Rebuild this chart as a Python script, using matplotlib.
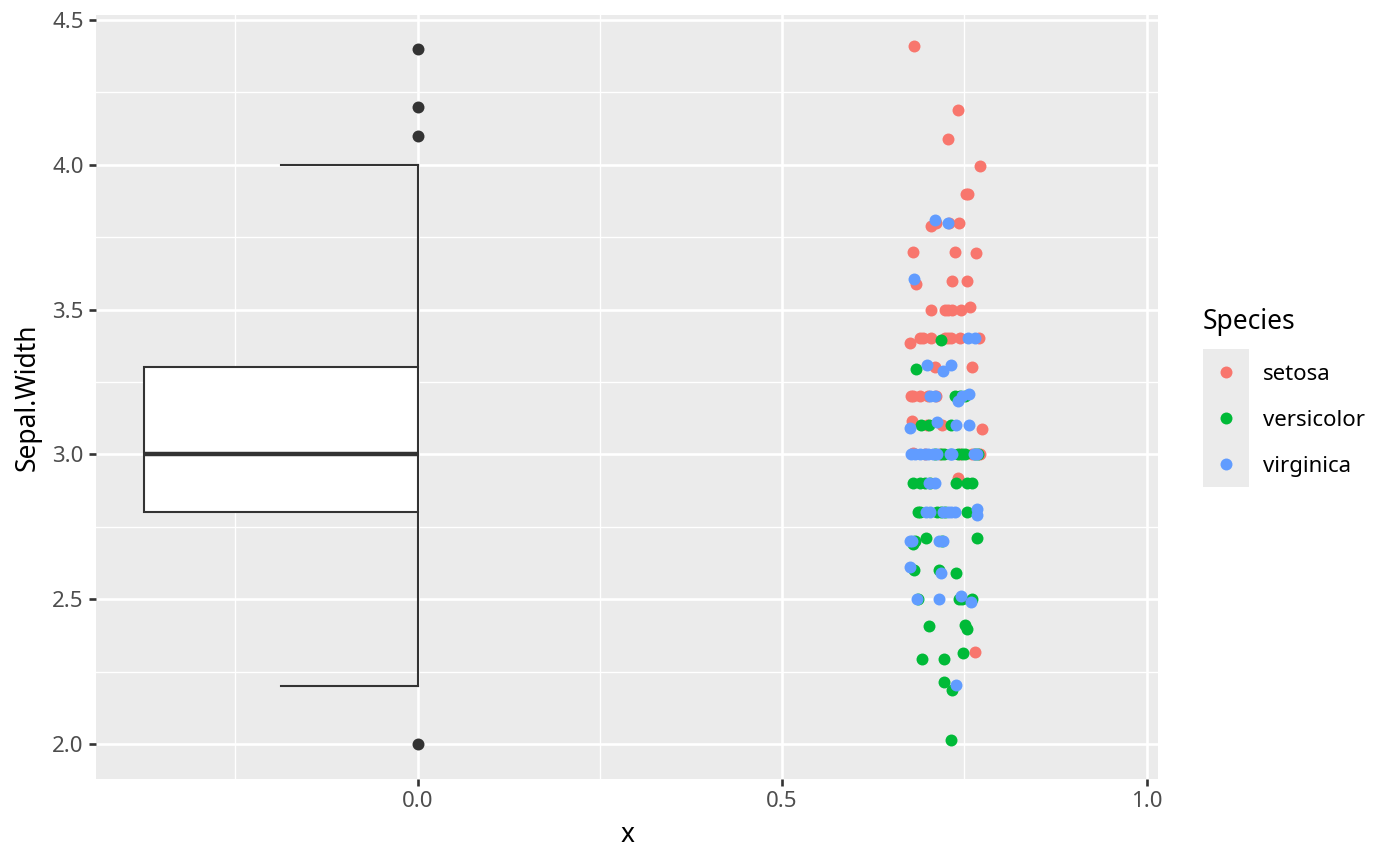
import numpy as np
import matplotlib
matplotlib.use("Agg")
import matplotlib.pyplot as plt
from matplotlib.patches import Rectangle
from matplotlib.lines import Line2D

plt.rcParams['font.family'] = ['Noto Sans', 'DejaVu Sans']

# ---------------- data ----------------
species = ["setosa", "versicolor", "virginica"]
colors = ["#F8766D", "#00BA38", "#619CFF"]

setosa_sw = [4.4, 4.2, 4.1, 4.0, 3.9, 3.9,
             3.8, 3.8, 3.8, 3.8, 3.7, 3.7, 3.7, 3.6, 3.6, 3.6,
             3.5, 3.5, 3.5, 3.5, 3.5, 3.5,
             3.4, 3.4, 3.4, 3.4, 3.4, 3.4, 3.4, 3.4, 3.4,
             3.3, 3.3, 3.2, 3.2, 3.2, 3.2, 3.2,
             3.1, 3.1, 3.1, 3.1, 3.0, 3.0, 3.0, 3.0, 3.0, 3.0, 2.9, 2.3]
setosa_x = [0.681, 0.741, 0.728, 0.771, 0.755, 0.752,
            0.704, 0.711, 0.729, 0.743, 0.679, 0.737, 0.766, 0.684, 0.733, 0.754,
            0.704, 0.723, 0.728, 0.733, 0.745, 0.758,
            0.675, 0.689, 0.693, 0.704, 0.723, 0.727, 0.732, 0.744, 0.770,
            0.710, 0.760, 0.677, 0.679, 0.689, 0.700, 0.711,
            0.678, 0.699, 0.719, 0.774, 0.679, 0.696, 0.716, 0.744, 0.760, 0.771, 0.741, 0.764]
# small vertical jitter (same order as setosa_sw)
setosa_dy = [0.01, -0.01, -0.01, -0.005, 0, 0,
             -0.01, 0, 0, 0, 0, 0, -0.004, -0.012, 0, 0,
             0, 0, 0, 0, 0, 0.01,
             -0.015, 0, 0, 0, 0, 0, 0, 0, 0,
             0, 0, 0, 0, 0, 0, 0,
             0.015, 0, 0, -0.013, 0.005, 0, 0, 0, 0, 0, 0.02, 0.018]

versicolor_sw = [3.4, 3.3, 3.2, 3.2, 3.2, 3.1, 3.1, 3.1,
                 3.0, 3.0, 3.0, 3.0, 3.0, 3.0, 3.0, 3.0,
                 2.9, 2.9, 2.9, 2.9, 2.9, 2.9, 2.9,
                 2.8, 2.8, 2.8, 2.8, 2.8, 2.8,
                 2.7, 2.7, 2.7, 2.7, 2.7, 2.6, 2.6, 2.6,
                 2.5, 2.5, 2.5, 2.5, 2.4, 2.4, 2.4, 2.3, 2.3, 2.3, 2.2, 2.2, 2.0]
versicolor_x = [0.718, 0.684, 0.737, 0.744, 0.751, 0.691, 0.702, 0.732,
                0.710, 0.718, 0.722, 0.741, 0.747, 0.751, 0.764, 0.769,
                0.679, 0.689, 0.696, 0.703, 0.738, 0.754, 0.760,
                0.686, 0.689, 0.712, 0.718, 0.723, 0.753,
                0.680, 0.682, 0.697, 0.720, 0.768, 0.681, 0.715, 0.738,
                0.687, 0.742, 0.747, 0.760, 0.701, 0.751, 0.753, 0.692, 0.722, 0.748, 0.722, 0.733, 0.731]
versicolor_dy = [-0.005, -0.005, 0, 0, 0, 0, 0, 0,
                 0, 0, 0, 0, 0, 0, 0, 0,
                 0, 0, 0, 0, 0, 0, 0,
                 0, 0, 0, 0, 0, 0,
                 -0.01, 0, 0.01, 0, 0.01, 0, 0, -0.01,
                 0, 0, 0, 0, 0.006, 0.01, -0.003, -0.007, -0.005, 0.015, 0.015, -0.014, 0.012]

virginica_sw = [3.8, 3.8, 3.6, 3.4, 3.4, 3.3, 3.3, 3.3,
                3.2, 3.2, 3.2, 3.2, 3.2, 3.1, 3.1, 3.1, 3.1,
                3.0, 3.0, 3.0, 3.0, 3.0, 3.0, 3.0, 3.0, 3.0, 3.0, 3.0, 3.0,
                2.9, 2.9, 2.8, 2.8, 2.8, 2.8, 2.8, 2.8, 2.8, 2.8,
                2.7, 2.7, 2.7, 2.7, 2.6, 2.6, 2.5, 2.5, 2.5, 2.5, 2.2]
virginica_x = [0.710, 0.727, 0.681, 0.755, 0.764, 0.699, 0.721, 0.732,
               0.703, 0.710, 0.741, 0.747, 0.756, 0.675, 0.712, 0.738, 0.757,
               0.677, 0.682, 0.689, 0.696, 0.700, 0.707, 0.712, 0.730, 0.732, 0.733, 0.763, 0.767,
               0.701, 0.710, 0.698, 0.703, 0.721, 0.727, 0.732, 0.737, 0.767, 0.768,
               0.676, 0.678, 0.715, 0.721, 0.676, 0.718, 0.685, 0.715, 0.746, 0.759, 0.739]
virginica_dy = [0.01, 0, 0.005, 0, 0, 0.01, -0.012, 0.01,
                0, 0, -0.015, 0, 0.01, -0.01, 0.01, 0, 0,
                0, 0, 0, 0, 0, 0, 0, 0, 0, 0, 0, 0,
                0, 0, 0, 0, 0, 0, 0, 0, 0.01, -0.01,
                0, 0, 0, 0, 0.01, -0.01, 0, 0, 0.01, -0.01, 0.003]

y_ticks = [2.0, 2.5, 3.0, 3.5, 4.0, 4.5]
x_ticks = [0.0, 0.5, 1.0]

# ---------------- figure ----------------
W, H = 1400, 865
fig = plt.figure(figsize=(W / 100, H / 100), dpi=100)
ax = fig.add_axes([96 / W, 1 - 779 / H, (1158.3 - 96) / W, (779 - 15) / H])
ax.set_facecolor("#EBEBEB")
for s in ax.spines.values():
    s.set_visible(False)

ax.set_xlim(-0.441, 1.016)
ax.set_ylim(1.879, 4.517)

ax.set_xticks(x_ticks)
ax.set_xticklabels([f"{v:.1f}" for v in x_ticks])
ax.set_yticks(y_ticks)
ax.set_yticklabels([f"{v:.1f}" for v in y_ticks])
ax.set_xticks([-0.25, 0.25, 0.75], minor=True)
ax.set_yticks([2.25, 2.75, 3.25, 3.75, 4.25], minor=True)
ax.tick_params(which="major", length=4.8, width=1.9, color="#333333",
               labelcolor="#4D4D4D", labelsize=16, pad=4)
ax.tick_params(which="minor", length=0)
ax.grid(which="major", color="white", linewidth=1.9, zorder=0)
ax.grid(which="minor", color="white", linewidth=0.95, zorder=0)
ax.set_axisbelow(True)

ax.set_xlabel("x", fontsize=19, color="black", labelpad=6)
ax.set_ylabel("Sepal.Width", fontsize=19, color="black", labelpad=8)

# ---------------- half boxplot ----------------
allv = np.array(setosa_sw + versicolor_sw + virginica_sw)
q1, med, q3 = np.percentile(allv, [25, 50, 75])
iqr = q3 - q1
lo_w = allv[allv >= q1 - 1.5 * iqr].min()
hi_w = allv[allv <= q3 + 1.5 * iqr].max()
outl = allv[(allv < q1 - 1.5 * iqr) | (allv > q3 + 1.5 * iqr)]

box_left, box_right, cap_left = -0.375, 0.0, -0.1875
lc = "#333333"
lw = 1.5
ax.add_patch(Rectangle((box_left, q1), box_right - box_left, q3 - q1,
                       facecolor="white", edgecolor=lc, linewidth=lw, zorder=3))
ax.plot([box_left, box_right], [med, med], color=lc, linewidth=3.2, zorder=4,
        solid_capstyle="butt")
ax.plot([box_right, box_right], [lo_w, q1], color=lc, linewidth=lw, zorder=3)
ax.plot([box_right, box_right], [q3, hi_w], color=lc, linewidth=lw, zorder=3)
ax.plot([cap_left, box_right], [lo_w, lo_w], color=lc, linewidth=lw, zorder=3)
ax.plot([cap_left, box_right], [hi_w, hi_w], color=lc, linewidth=lw, zorder=3)
ax.scatter(np.zeros(len(outl)), outl, s=74, color=lc, linewidths=0, zorder=5)

# ---------------- jittered points ----------------
series = [(setosa_x, setosa_sw, setosa_dy),
          (versicolor_x, versicolor_sw, versicolor_dy),
          (virginica_x, virginica_sw, virginica_dy)]
for (xs, ys, dys), c in zip(series, colors):
    ax.scatter(xs, np.array(ys) + np.array(dys), s=74, color=c, linewidths=0, zorder=6)

# ---------------- legend ----------------
fig.text(1203 / W, 1 - 329.3 / H, "Species", fontsize=19, color="black",
         ha="left", va="baseline")
fig.add_artist(Rectangle((1202.7 / W, 1 - 486.7 / H), (1249 - 1202.7) / W,
                         (486.7 - 349.3) / H, transform=fig.transFigure,
                         facecolor="#EBEBEB", edgecolor="none"))
key_y = [371.7, 417.7, 463.7]
for name, c, ky in zip(species, colors, key_y):
    fig.add_artist(Line2D([1225.7 / W], [1 - ky / H], marker="o", markersize=8.6,
                          markerfacecolor=c, markeredgewidth=0, linestyle="none",
                          transform=fig.transFigure))
    fig.text(1263.3 / W, 1 - (ky + 8.5) / H, name, fontsize=16, color="black",
             ha="left", va="baseline")

fig.savefig("out.png", dpi=100, facecolor="white")
